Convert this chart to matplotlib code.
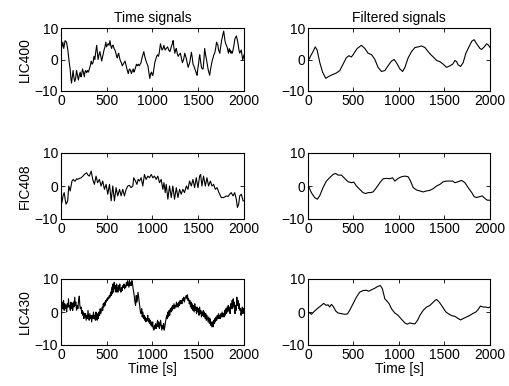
import numpy as np
import matplotlib
matplotlib.use("Agg")
import matplotlib.pyplot as plt

plt.rcParams['font.family'] = ['Liberation Sans', 'DejaVu Sans']

# ---------------- data (time [s], value) ----------------
lic400_raw = [(0,5),(10,4),(20,5.5),(30,3.5),(45,6),(60,5.5),(75,3),(90,-1),(100,-3),(108,-6),(115,-7.5),
 (125,-5),(132,-3.5),(140,-5.5),(150,-7),(160,-6),(170,-3.5),(180,-5),(190,-6.5),(200,-5),(210,-4),(218,-5.5),
 (225,-5),(235,-3),(245,-4),(255,-5.5),(262,-4),(270,-3.5),(280,-4.2),(290,-3.5),(300,-4),(310,-3),(320,-2),
 (330,-0.5),(340,-1.5),(350,-1),(360,1),(370,0),(380,2.5),(390,4.5),(398,2),(405,0),(415,1.5),(425,2.5),(435,1),
 (445,-0.5),(452,0.5),(460,1.5),(470,3),(480,4),(490,5.5),(498,4),(505,4.5),(515,5),(525,4.5),(535,6),(543,4.5),
 (553,3.5),(562,4.5),(570,4.5),(580,3.5),(590,3),(600,2),(608,1),(615,0.5),(623,1.5),(630,2),(640,0.5),(650,-0.5),
 (660,-1),(670,-2),(680,-1.5),(690,-1),(700,-0.5),(708,-1.5),(715,-2.5),(725,-3.5),(735,-4.5),(742,-3.5),(750,-3),
 (760,-3.5),(770,-4.5),(780,-3.5),(790,-3),(798,-4),(805,-3.5),(815,-2.5),(825,-1.5),(835,-2),(845,-1.5),(855,-2),
 (865,-1.5),(875,-1),(885,0.5),(895,1.5),(905,2.5),(915,1),(925,0),(935,-1),(942,-1.5),(950,-2),(960,-4),(970,-6),
 (980,-4.5),(990,-4),(998,-5),(1005,-5),(1015,-3),(1025,-1),(1035,0),(1045,1),(1055,1.5),(1065,1),(1073,2),
 (1080,3.5),(1087,5),(1095,4),(1105,3),(1115,3.5),(1125,4.5),(1132,3.5),(1140,3),(1150,3.5),(1165,4),(1178,3),
 (1190,2.5),(1200,3.5),(1210,4.5),(1218,5),(1225,6),(1235,3.5),(1245,2),(1252,3),(1260,3.5),(1270,2),(1280,1),
 (1290,1.5),(1305,2),(1315,0.5),(1327,-1),(1340,0),(1353,2),(1362,1),(1372,0),(1382,-1.5),(1390,-2.5),(1400,-1.5),
 (1407,-1),(1415,0.5),(1425,2.3),(1435,0.5),(1443,-1.5),(1452,-2),(1462,-3),(1470,-3.5),(1480,-4.5),(1487,-5),
 (1495,-3),(1505,-1),(1510,0.5),(1516,1.5),(1525,-0.5),(1535,-2.5),(1545,-3),(1553,-3),(1562,0),(1570,3.5),
 (1580,1.5),(1590,0),(1598,-1.5),(1607,-3),(1615,-4),(1625,-5),(1635,-3),(1645,-1.5),(1655,0),(1662,0.5),
 (1670,1.5),(1680,2),(1690,3.5),(1700,5.5),(1708,5),(1715,4.5),(1722,3),(1730,2.5),(1735,2),(1745,4),(1755,6),
 (1762,7),(1770,8),(1778,9),(1785,7.5),(1792,6),(1800,5),(1808,4.5),(1815,4),(1822,3),(1830,2),(1838,3.5),
 (1845,2.5),(1850,3),(1858,2),(1865,2.5),(1872,2),(1880,3),(1890,4.5),(1900,6.5),(1908,7),(1916,7.5),(1925,6.5),
 (1935,5),(1945,3),(1953,2),(1962,2.5),(1970,3),(1978,1.5),(1985,0),(1992,0.5),(2000,1.5)]

lic400_filt = [(0,-0.3),(10,0),(30,1.2),(55,2.5),(80,4),(100,3),(115,1),(130,-1),(160,-4),(195,-6),(220,-5.5),
 (255,-5),(310,-4.3),(350,-3.5),(385,-1.5),(420,0.5),(448,1.2),(477,0.8),(495,1.5),(540,3.5),(587,4.5),(625,3.5),
 (660,2),(700,1.5),(735,0),(770,-2.5),(807,-3.8),(845,-3.5),(880,-2),(917,-0.5),(947,0),(972,-1),(1010,-3),
 (1040,-3.8),(1065,-2.5),(1100,0.5),(1138,2.5),(1175,3.8),(1210,4),(1248,4.3),(1285,3.8),(1320,2.5),(1358,1.3),
 (1387,0.5),(1413,-0.3),(1450,-0.7),(1486,-1.5),(1523,-2.5),(1560,-2),(1590,-1.5),(1615,-0.3),(1633,-0.7),
 (1650,-1.7),(1677,-2.2),(1705,-1),(1735,2),(1760,3.5),(1800,5.8),(1825,6.3),(1853,5),(1890,3.5),(1908,3.2),
 (1937,4),(1963,5),(1985,4.5),(2000,3.8)]

fic408_raw = [(0,-3),(10,-5),(22,-3),(35,-2),(45,-4),(55,-5.5),(65,-5),(73,-4.5),(85,0),(100,-1.5),(120,1.5),
 (135,2),(147,1.5),(157,1.5),(170,2.2),(183,2),(200,2.3),(220,2.5),(240,3),(255,3.5),(280,4),(295,3.3),(310,3),
 (330,4.5),(347,2),(365,0.5),(383,3),(400,1),(420,2),(438,0),(456,1.5),(475,-1),(493,0.5),(511,-2.5),(530,0.5),
 (548,-4.5),(566,0),(584,-4.5),(602,-0.5),(620,-3),(640,-1),(657,-3),(675,-1),(693,-3),(712,-1),(730,0),(748,0.2),
 (766,-0.5),(785,0),(795,2.5),(814,1.5),(830,0.5),(843,2),(858,1.5),(876,2.5),(894,0),(912,3.5),(930,2),(950,3),
 (967,2.5),(986,3.5),(1004,2.5),(1022,3),(1040,2),(1058,3),(1077,1),(1095,2),(1113,-1),(1125,1),(1139,-2),(1150,0.5),
 (1168,-4),(1186,0),(1205,-3.5),(1222,0),(1241,-4),(1260,-0.5),(1278,-3.5),(1296,-1),(1314,-2.5),(1332,-1),
 (1350,-2),(1370,0),(1387,-1),(1405,1.5),(1424,0),(1442,2),(1460,-0.5),(1478,2.5),(1497,-0.5),(1515,3),(1526,3.5),
 (1540,0),(1558,3),(1577,0),(1595,2.5),(1613,0),(1632,1.5),(1650,0),(1668,0.5),(1686,-1),(1705,-0.5),(1726,-2),
 (1752,-3.5),(1778,-3.5),(1807,-3),(1825,-3.2),(1843,-2.5),(1860,-2),(1880,-3),(1898,-2),(1916,-4),(1928,-6.5),
 (1942,-5.5),(1953,-3),(1971,-2.5),(1990,-4.5),(2000,-4.5)]

fic408_filt = [(0,0.2),(5,0),(37,-2),(73,-3.5),(103,-4),(128,-3),(165,-0.5),(202,1.5),(238,2.5),(275,3.5),
 (305,3.8),(330,3.3),(367,3.3),(403,2.3),(440,1.3),(477,1),(503,1.2),(532,0),(568,-1),(605,-2),(635,-2.3),
 (660,-2),(686,-2),(715,-1.8),(752,-0.5),(790,1),(826,2.2),(862,2.3),(900,2.2),(928,2.5),(955,1.5),(990,2.3),
 (1027,2.8),(1064,3),(1100,2.8),(1127,1.5),(1156,-0.5),(1193,-1.2),(1230,-1.5),(1266,-1.8),(1303,-1.5),
 (1340,-1.3),(1376,-0.8),(1413,0),(1450,0.5),(1486,1.3),(1523,1.5),(1560,1.5),(1590,1.5),(1615,1),(1650,1.3),
 (1688,1.7),(1725,1),(1760,-0.5),(1800,-2),(1825,-3.2),(1853,-3.5),(1890,-3.2),(1915,-3),(1945,-3.8),
 (1970,-4.3),(2000,-4.3)]

lic430_raw = [(0,-3),(5,-1),(10,2),(15,3),(22,1),(28,3.5),(35,0.5),(42,2.5),(48,1),(55,2),(62,0),(68,2.5),
 (75,1.5),(82,4),(88,1.5),(95,2),(102,0.5),(108,3),(115,1),(122,2.5),(128,0.5),(135,3),(142,1.5),(150,4.5),
 (156,2),(162,3),(170,0.5),(178,2),(185,1),(192,3.5),(200,4.8),(206,2),(212,1),(220,1.5),(226,-0.5),(232,0.5),
 (238,-1),(245,0),(250,-2),(256,-0.5),(262,-1.5),(268,-0.5),(275,-2.5),(282,-1),(288,-2),(295,0.5),(302,-1.5),
 (308,-2.5),(315,-0.5),(322,-2),(328,-1),(335,-3),(342,-1),(348,-2),(355,0),(362,-2),(368,-1),(375,-2.5),(382,0),
 (388,-1.5),(395,-2.5),(402,-0.5),(408,-2),(415,0),(422,-1),(428,1),(435,-0.5),(442,0.5),(450,1.5),(456,0.5),
 (462,2.5),(468,1.5),(475,3),(482,2),(488,3.5),(495,3),(502,4),(508,3.5),(515,4.5),(522,4),(528,5),(535,4.5),
 (542,6),(548,5),(555,7.5),(562,5.5),(568,8.5),(575,6),(582,9),(588,7),(595,8),(602,6),(608,8.5),(615,7),(622,6),
 (628,8),(635,6.5),(642,8.5),(648,7),(655,6),(662,7.5),(668,6.5),(675,8),(682,7.5),(688,8.5),(695,7),(702,8),
 (708,7.5),(715,9),(722,8),(728,9.5),(735,8.5),(742,7.5),(748,9.5),(755,8),(762,9),(768,8),(775,9.5),(782,8.5),
 (788,7),(795,6),(802,4.5),(808,3),(815,2),(822,5),(828,3),(835,4),(842,6),(848,4.5),(855,3),(862,1.5),(868,0),
 (875,-0.5),(882,1),(888,-1.5),(895,0),(902,-2),(908,-1),(915,-2.5),(922,-1.5),(928,-3),(935,-2),(942,-2.5),
 (948,-1),(955,-3),(962,-2),(968,-3.5),(975,-2.5),(982,-4),(988,-3),(995,-4.5),(1002,-3),(1008,-5),(1015,-5.5),
 (1022,-4),(1028,-5),(1035,-3.5),(1042,-5),(1048,-4),(1055,-2.5),(1062,-4.5),(1068,-3),(1075,-5),(1082,-4),
 (1088,-2.5),(1095,-4),(1102,-5.5),(1108,-4),(1115,-5),(1122,-3.5),(1128,-5.5),(1135,-4.5),(1142,-3),(1148,-2),
 (1155,-1),(1162,-2),(1168,0),(1175,-1.5),(1182,0.5),(1188,-1),(1195,1),(1202,0),(1208,1.5),(1215,0.5),(1222,2),
 (1228,1),(1235,2.5),(1242,1),(1248,2),(1255,1.5),(1262,3),(1268,1.5),(1275,2.5),(1282,1.5),(1288,3),(1295,2),
 (1302,3.5),(1308,2.5),(1315,3.5),(1322,2.5),(1328,4),(1335,3.5),(1342,4.5),(1348,3),(1355,4),(1362,4.5),(1368,5),
 (1375,4),(1382,5.2),(1388,3.5),(1395,4),(1402,2.5),(1408,3.5),(1415,1.5),(1422,3),(1428,1),(1435,2.5),(1442,0.5),
 (1448,2),(1455,0),(1462,2.5),(1468,0.5),(1475,1.5),(1482,-0.5),(1488,1.5),(1495,0),(1502,1),(1508,-1),(1515,1.5),
 (1522,-0.5),(1528,0.5),(1535,-1.5),(1542,0),(1548,-1),(1555,0.5),(1562,-1.5),(1568,0),(1575,-2),(1582,-0.5),
 (1588,-2.5),(1595,-1),(1602,-2),(1608,-3),(1615,-1.5),(1622,-3.5),(1628,-2),(1635,-4),(1642,-3),(1648,-4.5),
 (1655,-3),(1662,-4.5),(1668,-2.5),(1675,-3.5),(1682,-2),(1688,-3),(1695,-1.5),(1702,-2.5),(1708,-1),(1715,-2),
 (1722,-0.5),(1728,-2),(1735,-1),(1742,-2),(1748,-0.5),(1755,-1.5),(1762,0),(1768,-1.5),(1775,-0.5),(1782,-1.5),
 (1788,0.5),(1795,-1),(1802,1),(1808,-0.5),(1815,1.5),(1822,0),(1828,2),(1835,0.5),(1842,1.5),(1848,-0.5),
 (1855,2.5),(1862,1),(1868,3.5),(1875,1),(1882,4),(1888,1.5),(1895,3),(1902,-0.5),(1908,2),(1915,0.5),(1922,4.5),
 (1928,2),(1935,3.5),(1942,1),(1948,2.5),(1955,0.5),(1962,1),(1968,-1),(1975,0.5),(1982,1.5),(1988,-0.5),
 (1995,1),(2000,0)]

lic430_filt = [(0,0.2),(5,0),(37,-0.7),(73,0.3),(110,1.2),(147,2),(172,2.6),(202,2),(220,2.2),(238,1.5),
 (257,2.3),(275,1.8),(305,0.3),(330,-0.3),(367,-0.5),(403,-0.7),(433,-0.6),(458,0.5),(495,2.5),(532,4.5),
 (568,6),(605,6.5),(642,6.6),(667,6.3),(697,6.7),(733,7.2),(770,7.8),(796,8),(818,7),(844,4),(862,3.5),
 (892,2.5),(917,1),(954,-0.3),(990,-1),(1027,-2.2),(1064,-3.3),(1090,-3.7),(1120,-3.3),(1145,-3.5),(1175,-3.6),
 (1204,-2.5),(1230,-1),(1266,0.5),(1303,1.5),(1340,2),(1370,2.8),(1395,3.5),(1413,3.8),(1442,3),(1480,1.5),
 (1515,0),(1552,-0.7),(1590,-1.2),(1615,-1.3),(1650,-2),(1677,-2.4),(1705,-2),(1743,-1.5),(1780,-1),
 (1815,-0.4),(1845,0),(1870,0.8),(1895,1.8),(1925,1.5),(1955,1.5),(1980,1.3),(2000,1.5)]

signal_names = ["LIC400", "FIC408", "LIC430"]
col_titles = ["Time signals", "Filtered signals"]
x_ticks = [0, 500, 1000, 1500, 2000]
y_ticks = [-10, 0, 10]

raw_series = [lic400_raw, fic408_raw, lic430_raw]
filt_series = [lic400_filt, fic408_filt, lic430_filt]

# ---------------- figure ----------------
W, H = 510, 386
fig = plt.figure(figsize=(W / 100, H / 100), dpi=100)

col_x = [61, 308]
col_w = [183, 182]
row_top = [28, 153, 279]
row_h = [63, 66, 66]

fs = 10
for r in range(3):
    for c in range(2):
        left = col_x[c] / W
        bottom = 1 - (row_top[r] + row_h[r]) / H
        ax = fig.add_axes([left, bottom, col_w[c] / W, row_h[r] / H])
        data = raw_series[r] if c == 0 else filt_series[r]
        t, v = zip(*data)
        ax.plot(t, v, color='black', lw=0.8)
        ax.set_xlim(0, 2000)
        ax.set_ylim(-10, 10)
        ax.set_xticks(x_ticks)
        ax.set_yticks(y_ticks)
        ax.set_yticklabels(["\u221210", "0", "10"])
        ax.tick_params(direction='in', top=True, right=True, length=3, width=0.6,
                       labelsize=fs, pad=2)
        for s in ax.spines.values():
            s.set_linewidth(0.8)
        if c == 0:
            ax.set_ylabel(signal_names[r], fontsize=fs, labelpad=2)
        if r == 0:
            ax.set_title(col_titles[c], fontsize=fs, pad=4)
        if r == 2:
            ax.set_xlabel("Time [s]", fontsize=fs, labelpad=0)

fig.savefig("out.png", dpi=100)
